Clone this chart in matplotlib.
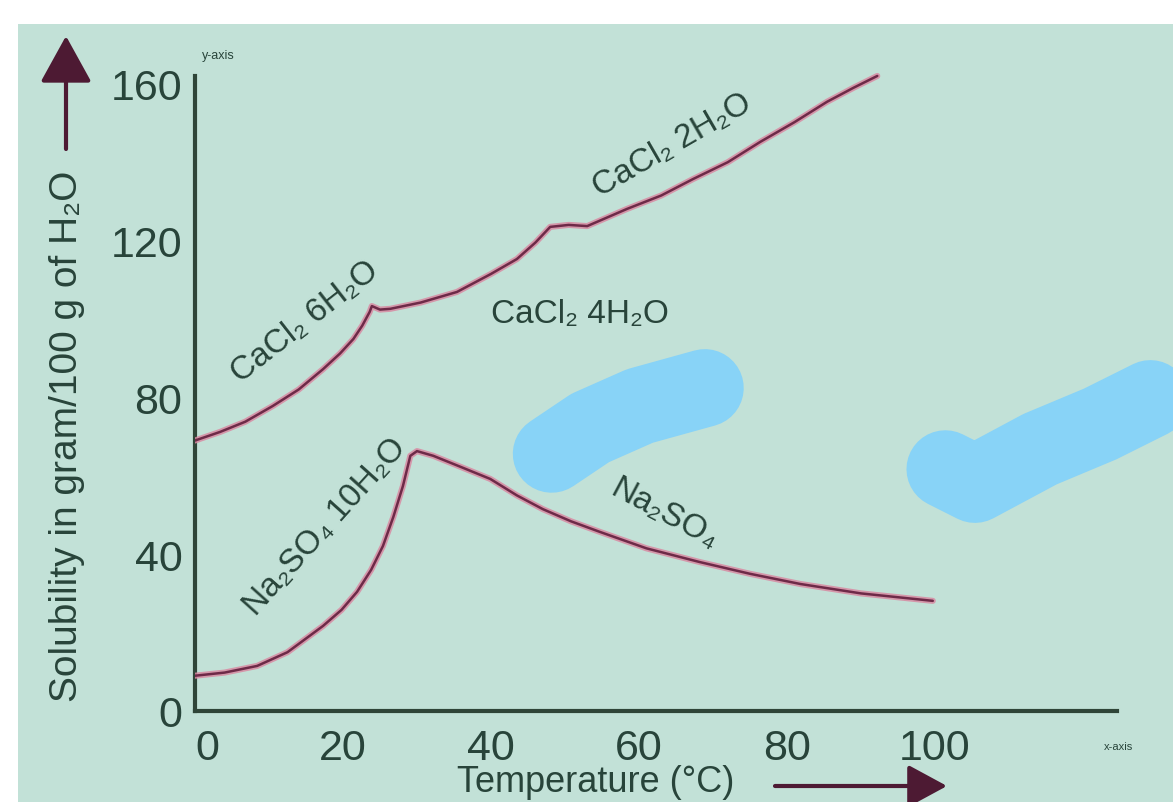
import matplotlib
matplotlib.use("Agg")
import matplotlib.pyplot as plt
from matplotlib.patches import Rectangle

# ---------------- data ----------------
cacl2_temp = [0, 3.4, 6.8, 10.5, 14.0, 17.3, 19.6, 21.4, 22.6, 23.6, 23.9, 25.0, 26.4, 30.5,
              35.4, 40.0, 43.5, 46.0, 48.0, 50.5, 53.0, 58.4, 63.0, 67.3, 72.0, 76.4, 81.0,
              85.4, 89.0, 92.2]
cacl2_sol = [69.0, 71.2, 73.8, 77.8, 82.0, 87.2, 91.2, 94.9, 98.3, 101.8, 103.3, 102.4, 102.6,
             104.2, 106.9, 111.5, 115.3, 119.5, 123.5, 124.0, 123.7, 128.1, 131.5, 135.7,
             140.0, 145.2, 150.2, 155.4, 159.0, 162.0]

na2so4_temp = [0, 4.0, 8.4, 12.5, 17.3, 19.8, 21.9, 23.8, 25.4, 26.8, 28.1, 29.1, 30.0, 32.2,
               36.0, 39.9, 43.5, 47.0, 50.8, 54.7, 61.0, 68.2, 75.0, 81.8, 90.0, 99.7]
na2so4_sol = [9.0, 9.8, 11.5, 15.0, 21.7, 25.8, 30.4, 36.0, 42.1, 49.5, 57.4, 65.1, 66.3, 65.1,
              62.2, 59.2, 55.0, 51.5, 48.4, 45.7, 41.5, 38.0, 35.0, 32.4, 30.0, 28.1]

x_ticks = [0, 20, 40, 60, 80, 100]
y_ticks = [0, 40, 80, 120, 160]

curve_labels = ["CaCl₂ 6H₂O", "CaCl₂ 4H₂O", "CaCl₂ 2H₂O", "Na₂SO₄ 10H₂O", "Na₂SO₄"]
label_temp = [14.9, 52.0, 64.5, 17.6, 63.5]
label_sol = [99.5, 101.3, 144.6, 47.2, 50.3]
label_rot = [38, 0, 30, 48, -28]

# light-blue scribbles over the picture
blob1_temp = [48.2, 53.4, 60.1, 68.9]
blob1_sol = [65.6, 72.2, 77.8, 82.4]
blob2_temp = [101.4, 105.4, 114.2, 122.3, 129.1]
blob2_sol = [61.7, 57.9, 66.8, 73.2, 79.6]

# ---------------- style ----------------
W, H = 1173, 803
BG = "#c2e1d7"
AXC = "#2f4538"
TXT = "#28443a"
LINE_CORE = "#6e2a48"
LINE_GLOW = "#d88aa2"
BLOB = "#88d3f7"
ARROW = "#4d1a33"

plt.rcParams["font.family"] = ["Liberation Sans Narrow", "Liberation Sans", "DejaVu Sans"]
LAB_FONT = ["Liberation Sans", "DejaVu Sans"]

fig = plt.figure(figsize=(W / 100, H / 100), dpi=100)
fig.patch.set_facecolor("white")
fig.add_artist(Rectangle((18 / W, 0), 1 - 18 / W, (H - 25) / H,
                         transform=fig.transFigure, facecolor=BG,
                         edgecolor="none", zorder=0))

ax = fig.add_axes([195 / W, (H - 712) / H, 130 * 7.4 / W, 170 * 3.92 / H])
ax.set_xlim(0, 130)
ax.set_ylim(0, 170)
ax.patch.set_visible(False)

for s in ["top", "right"]:
    ax.spines[s].set_visible(False)
ax.spines["left"].set_bounds(0, 162)
ax.spines["bottom"].set_bounds(0, 124.6)
for s in ["left", "bottom"]:
    ax.spines[s].set_color(AXC)
    ax.spines[s].set_linewidth(3)

ax.set_xticks(x_ticks)
ax.set_yticks(y_ticks)
ax.set_xticklabels([str(v) for v in x_ticks])
ax.set_yticklabels([str(v) for v in y_ticks])
ax.tick_params(axis="both", length=0, labelsize=31, labelcolor=TXT)
ax.tick_params(axis="x", pad=12)
ax.tick_params(axis="y", pad=9)
ax.get_xticklabels()[0].set_horizontalalignment("left")

# curves
for t, s in [(cacl2_temp, cacl2_sol), (na2so4_temp, na2so4_sol)]:
    ax.plot(t, s, color=LINE_GLOW, lw=4.4, alpha=0.85, solid_joinstyle="round",
            solid_capstyle="round", zorder=3)
    ax.plot(t, s, color=LINE_CORE, lw=1.8, solid_joinstyle="round",
            solid_capstyle="round", zorder=4)

# curve labels
for txt, t, s, r in zip(curve_labels, label_temp, label_sol, label_rot):
    ax.text(t, s, txt, rotation=r, rotation_mode="anchor", ha="center", va="center",
            fontsize=24, color=TXT, family=LAB_FONT, zorder=5)

# scribbles
for bt, bs in [(blob1_temp, blob1_sol), (blob2_temp, blob2_sol)]:
    ax.plot(bt, bs, color=BLOB, lw=56, solid_capstyle="round",
            solid_joinstyle="round", clip_on=False, zorder=6)

# axis titles
fig.text(67 / W, (H - 436) / H, "Solubility in gram/100 g of H₂O", rotation=90,
         ha="center", va="center", fontsize=28, color=TXT, family=LAB_FONT)
fig.text(596 / W, 11 / H, "Temperature (°C)", ha="center", va="baseline",
         fontsize=26, color=TXT, family=LAB_FONT)

# small axis names
fig.text(218 / W, (H - 56) / H, "y-axis", ha="center", va="center",
         fontsize=9, color=TXT, family=LAB_FONT)
fig.text(1118 / W, (H - 747) / H, "x-axis", ha="center", va="center",
         fontsize=8, color=TXT, family=LAB_FONT)

# arrows
ax.annotate("", xy=(66, H - 37), xytext=(66, H - 150), xycoords="figure pixels",
            textcoords="figure pixels",
            arrowprops=dict(arrowstyle="-|>,head_length=1.45,head_width=0.8",
                            mutation_scale=20, lw=3, color=ARROW,
                            shrinkA=0, shrinkB=0))
ax.annotate("", xy=(947, H - 787), xytext=(775, H - 787), xycoords="figure pixels",
            textcoords="figure pixels",
            arrowprops=dict(arrowstyle="-|>,head_length=1.2,head_width=0.65",
                            mutation_scale=20, lw=3, color=ARROW,
                            shrinkA=0, shrinkB=0))

fig.savefig("out.png", dpi=100)
